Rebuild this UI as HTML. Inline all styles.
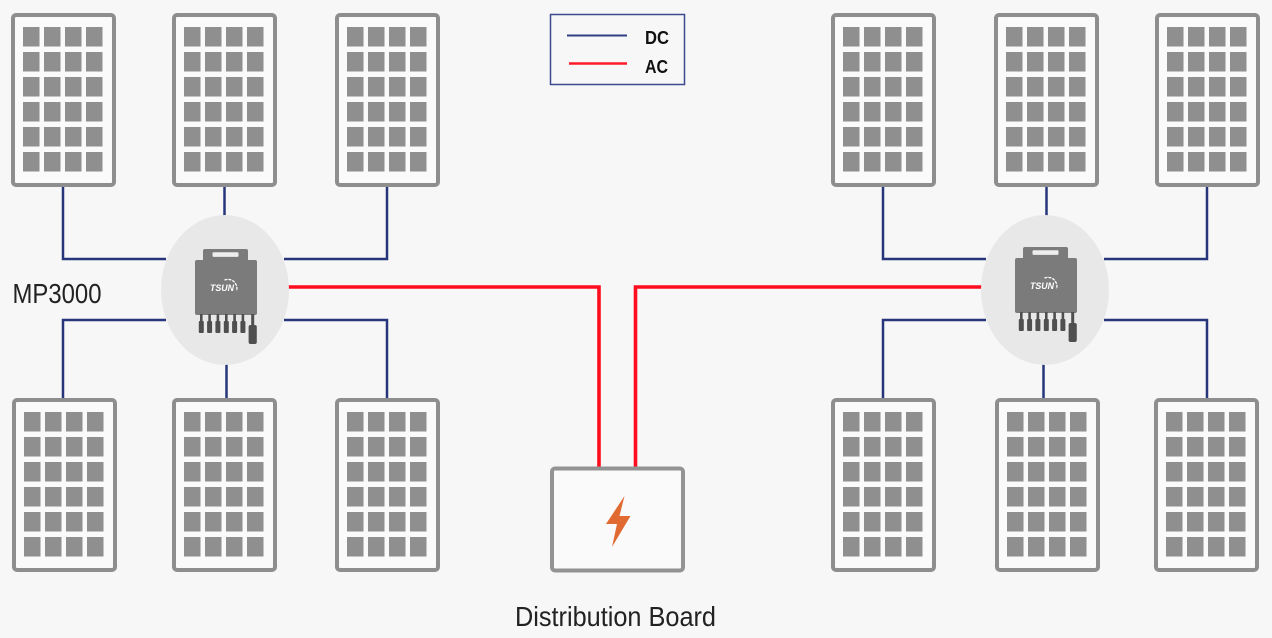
<!DOCTYPE html>
<html>
<head>
<meta charset="utf-8">
<style>
  html, body { margin: 0; padding: 0; background: #f7f7f7; }
  body { width: 1272px; height: 638px; overflow: hidden; }
  svg { display: block; }
  text { font-family: "Liberation Sans", "DejaVu Sans", sans-serif; }
</style>
</head>
<body>
<svg width="1272" height="638" viewBox="0 0 1272 638" xmlns="http://www.w3.org/2000/svg">
  <defs>
    <g id="cells" fill="#8f8f8f">
      <rect x="0" y="0" width="16.5" height="19.5"/><rect x="21" y="0" width="16.5" height="19.5"/><rect x="42" y="0" width="16.5" height="19.5"/><rect x="63" y="0" width="16.5" height="19.5"/>
      <rect x="0" y="25" width="16.5" height="19.5"/><rect x="21" y="25" width="16.5" height="19.5"/><rect x="42" y="25" width="16.5" height="19.5"/><rect x="63" y="25" width="16.5" height="19.5"/>
      <rect x="0" y="50" width="16.5" height="19.5"/><rect x="21" y="50" width="16.5" height="19.5"/><rect x="42" y="50" width="16.5" height="19.5"/><rect x="63" y="50" width="16.5" height="19.5"/>
      <rect x="0" y="75" width="16.5" height="19.5"/><rect x="21" y="75" width="16.5" height="19.5"/><rect x="42" y="75" width="16.5" height="19.5"/><rect x="63" y="75" width="16.5" height="19.5"/>
      <rect x="0" y="100" width="16.5" height="19.5"/><rect x="21" y="100" width="16.5" height="19.5"/><rect x="42" y="100" width="16.5" height="19.5"/><rect x="63" y="100" width="16.5" height="19.5"/>
      <rect x="0" y="125" width="16.5" height="19.5"/><rect x="21" y="125" width="16.5" height="19.5"/><rect x="42" y="125" width="16.5" height="19.5"/><rect x="63" y="125" width="16.5" height="19.5"/>
    </g>
    <g id="panel">
      <rect x="2" y="2" width="101" height="170" rx="3" ry="3" fill="#fafafa" stroke="#8e8e8e" stroke-width="4"/>
      <use href="#cells" x="12" y="14"/>
    </g>
    <g id="inverter">
      <rect x="203" y="249" width="45" height="14" rx="2" fill="#7b7b7b"/>
      <rect x="212.5" y="252.3" width="26" height="4.6" rx="1" fill="#ededed"/>
      <rect x="195" y="260" width="62" height="55" rx="2" fill="#7b7b7b"/>
      <g fill="#4f4f4f">
        <rect x="200" y="314" width="2.6" height="9"/><rect x="198.8" y="321" width="5" height="12" rx="1"/>
        <rect x="208.3" y="314" width="2.6" height="9"/><rect x="207.1" y="321" width="5" height="12" rx="1"/>
        <rect x="216.6" y="314" width="2.6" height="9"/><rect x="215.4" y="321" width="5" height="12" rx="1"/>
        <rect x="225" y="314" width="2.6" height="9"/><rect x="223.8" y="321" width="5" height="12" rx="1"/>
        <rect x="233.3" y="314" width="2.6" height="9"/><rect x="232.1" y="321" width="5" height="12" rx="1"/>
        <rect x="241.6" y="314" width="2.6" height="9"/><rect x="240.4" y="321" width="5" height="12" rx="1"/>
        <rect x="251.2" y="314" width="3" height="12"/><rect x="248.6" y="325" width="8.2" height="19" rx="2"/>
      </g>
      <text x="210" y="291" font-size="9.5" font-style="italic" font-weight="bold" fill="#ffffff" textLength="24" lengthAdjust="spacingAndGlyphs">TSUN</text>
      <path d="M224.5 280 A 9 9 0 0 1 236.5 291" fill="none" stroke="#ffffff" stroke-width="1.3" stroke-dasharray="3 1"/>
    </g>
  </defs>

  <rect x="0" y="0" width="1272" height="638" fill="#f7f7f7"/>

  <!-- DC connectors -->
  <g fill="none" stroke="#27367a" stroke-width="2.5">
    <path d="M63 186 V259 H166"/>
    <path d="M387 186 V259 H284"/>
    <path d="M224.5 186 V217"/>
    <path d="M63 399 V320 H166"/>
    <path d="M387 399 V320 H284"/>
    <path d="M226.5 363 V399"/>
    <path d="M883 186 V259 H986"/>
    <path d="M1207 186 V259 H1104"/>
    <path d="M1046.5 186 V217"/>
    <path d="M883 399 V320 H986"/>
    <path d="M1207 399 V320 H1104"/>
    <path d="M1043.5 363 V399"/>
  </g>

  <!-- AC connectors -->
  <g fill="none" stroke="#ff0d1f" stroke-width="3.6">
    <path d="M286 287 H599 V469"/>
    <path d="M984 287 H635.5 V469"/>
  </g>

  <!-- Inverter ellipses -->
  <ellipse cx="225" cy="290" rx="64" ry="75" fill="#e8e8e8"/>
  <ellipse cx="1045" cy="290" rx="64" ry="75" fill="#e8e8e8"/>
  <use href="#inverter"/>
  <use href="#inverter" x="820" y="-2"/>

  <!-- Panels top -->
  <use href="#panel" x="11" y="13"/>
  <use href="#panel" x="172" y="13"/>
  <use href="#panel" x="335" y="13"/>
  <use href="#panel" x="831" y="13"/>
  <use href="#panel" x="994" y="13"/>
  <use href="#panel" x="1155" y="13"/>
  <!-- Panels bottom -->
  <use href="#panel" x="12" y="398"/>
  <use href="#panel" x="172" y="398"/>
  <use href="#panel" x="335" y="398"/>
  <use href="#panel" x="831" y="398"/>
  <use href="#panel" x="995" y="398"/>
  <use href="#panel" x="1154" y="398"/>

  <!-- Legend -->
  <rect x="550.5" y="14.5" width="134" height="70" fill="none" stroke="#3a4a8a" stroke-width="1.5"/>
  <line x1="567" y1="35.5" x2="627" y2="35.5" stroke="#2f3f85" stroke-width="2"/>
  <line x1="569" y1="63.5" x2="627" y2="63.5" stroke="#ff1a2a" stroke-width="2.5"/>
  <text x="645" y="44" font-size="18" font-weight="bold" fill="#111" textLength="24" lengthAdjust="spacingAndGlyphs">DC</text>
  <text x="645" y="73" font-size="18" font-weight="bold" fill="#111" textLength="23" lengthAdjust="spacingAndGlyphs">AC</text>

  <!-- Distribution board -->
  <rect x="552" y="468.5" width="131" height="102" rx="3" fill="#fafafa" stroke="#939393" stroke-width="4"/>
  <path d="M624.5 496 L606 524 L617 524 L612 547 L630.5 516 L619.5 516 Z" fill="#e06a32"/>

  <!-- Labels -->
  <text transform="translate(12.5,303) scale(1,1.15)" x="0" y="0" font-size="24" fill="#222" textLength="89" lengthAdjust="spacingAndGlyphs">MP3000</text>
  <text transform="translate(515,626) scale(1,1.1)" x="0" y="0" font-size="25" fill="#222" textLength="201" lengthAdjust="spacingAndGlyphs">Distribution Board</text>
</svg>
</body>
</html>
